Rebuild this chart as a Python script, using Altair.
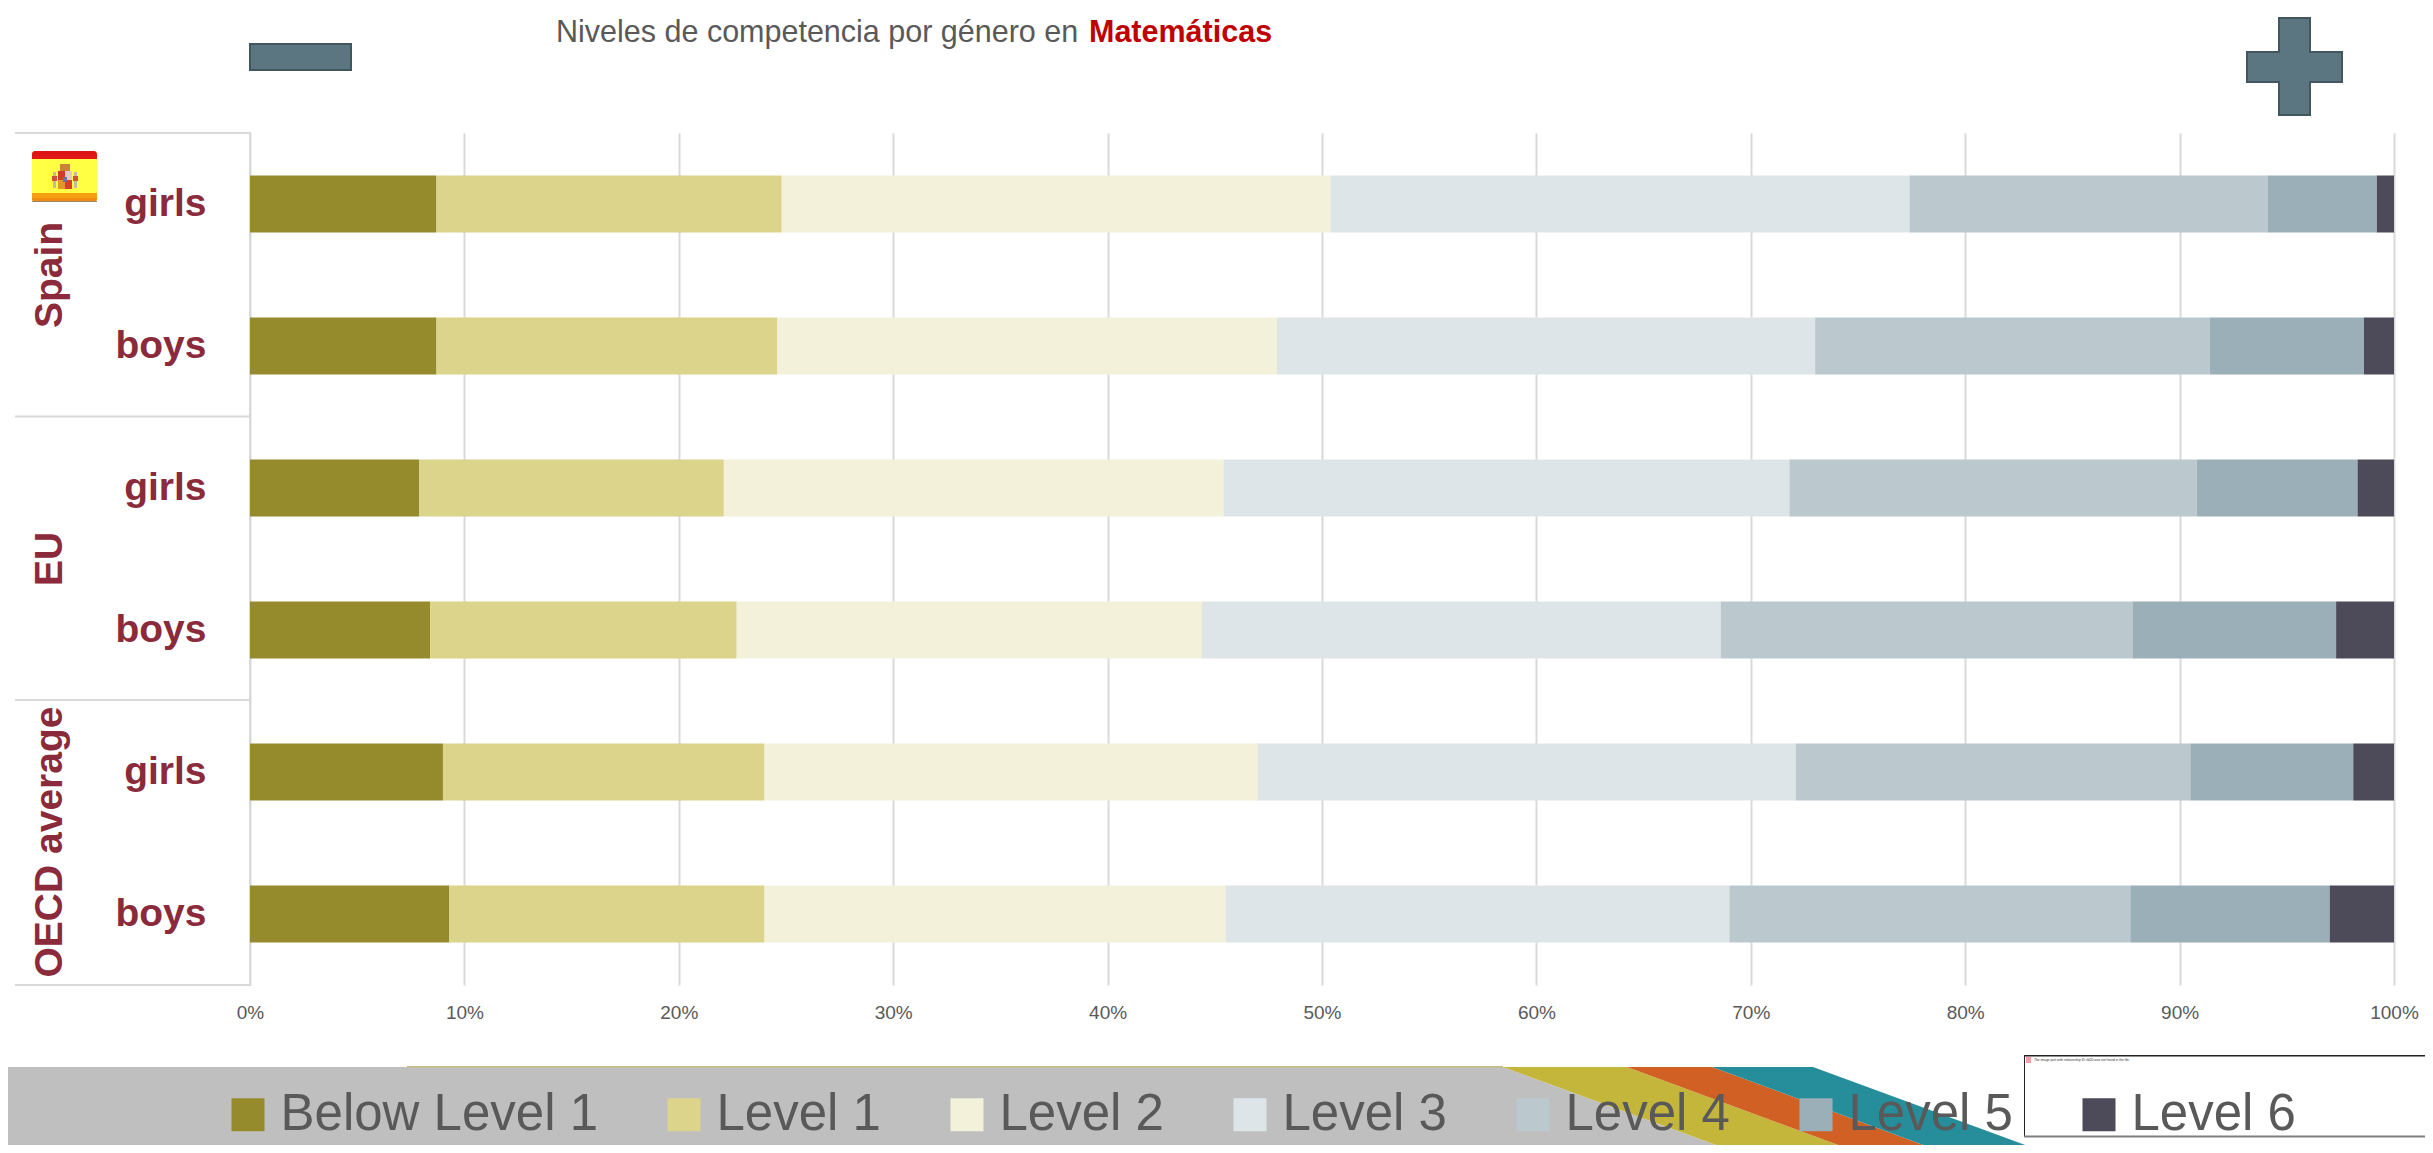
import altair as alt
import pandas as pd

rows = ["Spain|girls", "Spain|boys", "EU|girls", "EU|boys", "OECD average|girls", "OECD average|boys"]
levels = ["Below Level 1", "Level 1", "Level 2", "Level 3", "Level 4", "Level 5", "Level 6"]
below_level_1 = [8.7, 8.7, 7.9, 8.4, 9.0, 9.3]
level_1 = [16.1, 15.9, 14.2, 14.3, 15.0, 14.7]
level_2 = [25.6, 23.3, 23.3, 21.7, 23.0, 21.5]
level_3 = [27.0, 25.1, 26.4, 24.2, 25.1, 23.5]
level_4 = [16.7, 18.4, 19.0, 19.2, 18.4, 18.7]
level_5 = [5.1, 7.2, 7.5, 9.5, 7.6, 9.3]
level_6 = [0.8, 1.4, 1.7, 2.7, 1.9, 3.0]
series = [below_level_1, level_1, level_2, level_3, level_4, level_5, level_6]
colors = ["#958B2C", "#DCD48B", "#F3F1D9", "#DDE5E8", "#BBC9CF", "#9BAFB8", "#4D4B59"]
x_ticks = list(range(0, 101, 10))

df = pd.DataFrame([
    {"row": r, "level": l, "order": i, "value": vals[j]}
    for i, (l, vals) in enumerate(zip(levels, series))
    for j, r in enumerate(rows)
])

FONT = "Liberation Sans"
PX, PY = 250, 133   # plot origin in page pixels
one = alt.Data(values=[{"a": 1}])


def rect(x0, y0, x1, y1, fill, stroke=None, sw=0, radius=0):
    kw = dict(fill=fill, strokeWidth=sw, cornerRadius=radius)
    if stroke:
        kw["stroke"] = stroke
    return alt.Chart(one).mark_rect(**kw).encode(
        x=alt.value(x0 - PX), x2=alt.value(x1 - PX),
        y=alt.value(y0 - PY), y2=alt.value(y1 - PY))


def poly(path, fill, stroke=None, sw=0):
    kw = dict(shape=path, size=4, filled=True, fill=fill, opacity=1, strokeWidth=sw)
    if stroke:
        kw["stroke"] = stroke
    return alt.Chart(one).mark_point(**kw).encode(x=alt.value(-PX), y=alt.value(-PY))


def label(text, x, y, size, color, bold=False, align="left", angle=0):
    return alt.Chart(one).mark_text(
        text=text, font=FONT, fontSize=size, color=color, align=align, angle=angle,
        baseline="alphabetic", fontWeight="bold" if bold else "normal"
    ).encode(x=alt.value(x - PX), y=alt.value(y - PY))


bars = alt.Chart(df).mark_bar().encode(
    x=alt.X("value:Q", stack="zero", title=None,
            scale=alt.Scale(domain=[0, 100], nice=False),
            axis=alt.Axis(values=x_ticks, labelExpr="datum.value + '%'", grid=True,
                          gridColor="#D9D9D9", gridWidth=2, domain=False, ticks=False,
                          labelFont=FONT, labelFontSize=19, labelColor="#595959",
                          labelPadding=18, labelFlush=False)),
    y=alt.Y("row:N", sort=rows, title=None,
            scale=alt.Scale(paddingInner=0.6, paddingOuter=0.3),
            axis=alt.Axis(labelExpr="split(datum.label, '|')[1]", ticks=False,
                          domain=False, grid=False, labelFont=FONT, labelFontSize=39,
                          labelFontWeight="bold", labelColor="#8B2A3B", labelPadding=44,
                          labelLimit=200)),
    color=alt.Color("level:N", sort=levels, title=None,
                    scale=alt.Scale(domain=levels, range=colors),
                    legend=alt.Legend(orient="none", legendX=222.5 - PX, legendY=1089 - PY,
                                      direction="horizontal", columns=7, symbolType="square",
                                      symbolSize=1089, symbolStrokeWidth=0, labelFont=FONT,
                                      labelFontSize=51, labelColor="#595959", labelOffset=7,
                                      columnPadding=60, labelLimit=600, padding=0)),
    order=alt.Order("order:Q"),
)

layers = [
    # left frame
    rect(15, 132, 250, 134, "#D9D9D9"),
    rect(15, 415.5, 250, 417.5, "#D9D9D9"),
    rect(15, 699, 250, 701, "#D9D9D9"),
    rect(15, 984, 250, 986, "#D9D9D9"),
    rect(249, 132, 251, 986, "#D9D9D9"),
    bars,
    # group labels
    label("Spain", 62, 275, 39, "#8B2A3B", True, "center", 270),
    label("EU", 62, 559, 39, "#8B2A3B", True, "center", 270),
    label("OECD average", 62, 842, 39, "#8B2A3B", True, "center", 270),
    # title
    label("Niveles de competencia por género en", 556, 42, 30.5, "#595959"),
    label("Matemáticas", 1089, 42, 30.5, "#C00000", True),
    # top shapes
    rect(250, 44, 351, 70, "#5B7680", "#425660", 2),
    poly("M2279,18H2310V52H2342V82H2310V115H2279V82H2247V52H2279Z", "#5B7680", "#425660", 2),
    # flag
    rect(32, 151, 97, 202, "#FFFF44", radius=3),
    rect(32, 151, 97, 158, "#DD1515", radius=3),
    rect(32, 155, 97, 159, "#E01818"),
    rect(32, 193, 97, 202, "#F08A10", radius=3),
    rect(32, 193, 97, 198, "#F5A010"),
    rect(32, 201, 97, 202, "#9A8A70"),
    # crest: columns, crown, shield quarters, centre
    rect(53, 172, 56, 188, "#C8B8A0"),
    rect(74, 172, 77, 188, "#C8B8A0"),
    rect(52, 176, 57, 181, "#D05040"),
    rect(73, 176, 78, 181, "#D05040"),
    rect(60, 164, 70, 171, "#C9823A"),
    rect(58, 171, 65, 180, "#CF3B2A"),
    rect(65, 171, 72, 180, "#E6C8C0"),
    rect(58, 180, 65, 189, "#E0972B"),
    rect(65, 180, 72, 189, "#D8402A"),
    rect(63, 177, 67, 182, "#6A70A8"),
    # bottom band
    poly("M0,1067H1503L1738,1153H0Z", "#BFBFBF"),
    poly("M1503,1067H1627L1860,1153H1738Z", "#C4B53B"),
    poly("M1627,1067H1712L1945,1153H1860Z", "#D06024"),
    poly("M1712,1067H1813L2047,1153H1945Z", "#268E9B"),
    rect(407, 1066, 1503, 1067.5, "#C8BC85"),
    # broken-image box
    rect(2024, 1055, 2433, 1137, "#FFFFFF"),
    rect(2024, 1055, 2433, 1056.5, "#222222"),
    rect(2024, 1055, 2025, 1137, "#222222"),
    rect(2024, 1135.5, 2433, 1137.5, "#7F7F7F"),
    rect(2026, 1057, 2031, 1063, "#F0A0A8"),
    label("The image part with relationship ID rId20 was not found in the file.", 2034, 1061, 3.3, "#333333"),
]

chart = alt.layer(*layers).properties(
    width=2144, height=852,
    padding={"left": 242, "top": 125, "right": 31, "bottom": 160},
    autosize=alt.AutoSizeParams(type="none"),
).configure_view(stroke=None)

chart.save("out.html", embed_options={"renderer": "svg", "actions": False})
